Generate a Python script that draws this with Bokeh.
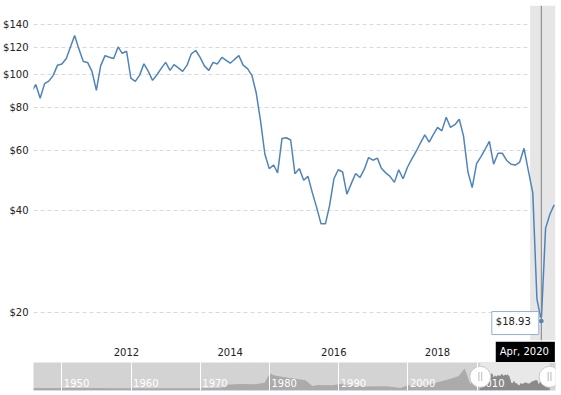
import pandas as pd
from bokeh.plotting import figure
from bokeh.models import (Range1d, FixedTicker, NumeralTickFormatter,
                          BoxAnnotation, Span, Label)
from bokeh.layouts import column
from bokeh.embed import file_html
from bokeh.resources import INLINE
from bokeh.core.properties import value

# ---------------- data ----------------
first_month = "2010-06-01"
prices = [
    89.0,                                                   # Jun 2010
    93.5, 85.3, 94.1, 95.7, 99.5, 106.6,                    # Jul-Dec 2010
    107.4, 111.5, 120.1, 130.3, 118.8, 109.3, 108.6, 102.2, 89.9, 106.1, 113.7, 112.4,  # 2011
    111.5, 120.6, 115.5, 117.1, 97.6, 95.5, 99.5, 107.6, 102.2, 96.2, 99.9, 104.3,      # 2012
    108.6, 102.9, 107.0, 104.7, 102.2, 106.6, 115.1, 117.7, 112.4, 106.1, 102.9, 108.6, # 2013
    107.5, 112.4, 110.3, 108.0, 110.8, 113.7, 106.6, 104.1, 99.5, 88.5, 73.0, 58.5,     # 2014
    53.0, 54.3, 51.5, 65.0, 65.3, 64.3, 51.2, 53.0, 49.0, 50.3, 45.0, 40.8,             # 2015
    36.5, 36.5, 41.3, 49.5, 52.6, 51.8, 44.6, 47.9, 51.3, 49.9, 52.8, 57.1,             # 2016
    56.1, 56.9, 53.1, 51.5, 50.3, 48.3, 52.6, 49.5, 53.5, 56.5, 59.5, 63.0,             # 2017
    66.6, 63.4, 66.6, 70.0, 68.4, 75.0, 70.0, 71.3, 74.0, 66.0, 51.8, 46.6,             # 2018
    54.8, 57.5, 60.3, 63.7, 54.6, 58.8, 58.8, 56.0, 54.6, 54.3, 55.4, 60.8,             # 2019
    52.2, 45.0, 22.0, 18.93, 35.4, 39.0, 41.5,                                         # 2020
]
y_ticks = [20, 40, 60, 80, 100, 120, 140]
x_tick_years = [2012, 2014, 2016, 2018]
view_start, view_end = "2010-06-15", "2020-07-10"
recession_start = "2020-01-13"
hover_month, hover_price, hover_text, hover_date_text = "2020-04-01", 18.93, "$18.93", "Apr, 2020"

# navigator (long history, 1946 onward)
nav_years = [1945.9, 1950, 1955, 1960, 1965, 1970, 1973, 1974, 1976, 1978, 1979.3, 1979.8,
             1980.2, 1980.6, 1982, 1983.5, 1985.2, 1986.2, 1987, 1989, 1990.7, 1991.3, 1994,
             1997, 1998.9, 2000, 2001.9, 2003.5, 2005.9, 2007.3, 2008.2, 2008.6, 2009.0,
             2009.8, 2010.4]
nav_prices = [17, 17, 17, 16, 16, 16, 20, 42, 45, 44, 55, 100,
              119, 108, 95, 85, 72, 31, 38, 37, 50, 36, 28,
              30, 17, 37, 30, 48, 79, 100, 155, 100, 48,
              79, 88]
nav_decades = [1950, 1960, 1970, 1980, 1990, 2000, 2010]
nav_view = (1945.9, 2021.33)
sel_start, sel_end = 2010.46, 2020.47

FONT = "DejaVu Sans"
LINE = "#4f84bb"

dates = pd.date_range(first_month, periods=len(prices), freq="MS")
x_range = Range1d(pd.Timestamp(view_start), pd.Timestamp(view_end))

# ---------------- main chart ----------------
p = figure(width=561, height=341, x_axis_type="datetime", y_axis_type="log",
           x_range=x_range, y_range=Range1d(16.6, 159.5),
           output_backend="svg", toolbar_location=None,
           min_border_left=33, min_border_right=6, min_border_top=5, min_border_bottom=1)
p.outline_line_color = None
p.xaxis.visible = False

p.add_layout(BoxAnnotation(left=pd.Timestamp(recession_start), fill_color="#e6e6e6",
                           fill_alpha=1, line_color=None, level="underlay"))

p.yaxis.ticker = FixedTicker(ticks=y_ticks)
p.yaxis.formatter = NumeralTickFormatter(format="$0")
p.yaxis.axis_line_color = None
p.yaxis.major_tick_line_color = None
p.yaxis.minor_tick_line_color = None
p.yaxis.major_tick_out = 0
p.yaxis.major_tick_in = 0
p.yaxis.minor_tick_out = 0
p.yaxis.minor_tick_in = 0
p.yaxis.major_label_text_font = FONT
p.yaxis.major_label_text_font_size = "10px"
p.yaxis.major_label_text_color = "#222222"
p.yaxis.major_label_standoff = 5

p.xgrid.visible = False
p.ygrid.ticker = FixedTicker(ticks=y_ticks)
p.ygrid.grid_line_color = "#d8d8d8"
p.ygrid.grid_line_dash = "4 3"
p.ygrid.grid_line_width = 1

p.add_layout(Span(location=pd.Timestamp(hover_month), dimension="height",
                  line_color="#808080", line_width=1))

p.line(dates, prices, line_color=LINE, line_width=1.5)
p.scatter([pd.Timestamp(hover_month)], [hover_price], marker="circle", size=6,
          fill_color=LINE, line_color="white", line_width=1)

p.add_layout(Label(x=pd.Timestamp(hover_month), y=hover_price, x_offset=-26, y_offset=-2,
                   text=hover_text, text_align="center", text_baseline="middle",
                   text_font=FONT, text_font_size="10px", text_color="#222222",
                   background_fill_color="white", border_line_color="#8fb0d3",
                   border_line_width=1, padding=(4, 8, 4, 8)))

# ---------------- date-label strip (year labels + hovered date) ----------------
strip = figure(width=561, height=21, x_axis_type="datetime", x_range=x_range,
               y_range=Range1d(0, 21), output_backend="svg", toolbar_location=None,
               min_border_left=33, min_border_right=6, min_border_top=0, min_border_bottom=0)
strip.outline_line_color = None
strip.xaxis.visible = False
strip.yaxis.visible = False
strip.grid.visible = False
strip.text(x=[pd.Timestamp(f"{y}-01-01") for y in x_tick_years], y=[10.5] * len(x_tick_years),
           text=[str(y) for y in x_tick_years], text_align="left", text_baseline="middle",
           text_font=value(FONT), text_font_size="10px", text_color="#222222")
strip.add_layout(Label(x=pd.Timestamp(hover_month), y=10.5, x_offset=-16,
                       text=hover_date_text, text_align="center", text_baseline="middle",
                       text_font=FONT, text_font_size="10px", text_color="white",
                       background_fill_color="black", padding=(4, 6, 4, 6)))

# ---------------- navigator ----------------
nav = figure(width=561, height=33, x_range=Range1d(*nav_view), y_range=Range1d(0, 197),
             output_backend="svg", toolbar_location=None,
             min_border_left=33, min_border_right=0, min_border_top=0, min_border_bottom=5,
             background_fill_color="#d3d3d3", border_fill_color="white")
nav.outline_line_color = None
nav.xaxis.visible = False
nav.yaxis.visible = False
nav.ygrid.visible = False

nav.add_layout(BoxAnnotation(left=sel_start, right=sel_end, fill_color="#e8e8e8",
                             fill_alpha=1, line_color=None, level="underlay"))

sel_years = [d.year + (d.month - 1) / 12 for d in dates]
nav.varea(x=nav_years, y1=0, y2=nav_prices, fill_color="#ababab")
nav.varea(x=sel_years, y1=0, y2=prices, fill_color="#8a8a8a")

nav.xgrid.ticker = FixedTicker(ticks=nav_decades)
nav.xgrid.grid_line_color = "white"
nav.xgrid.grid_line_width = 1
nav.xgrid.level = "overlay"

nav.text(x=nav_decades, y=[56] * len(nav_decades), text=[str(d) for d in nav_decades],
         x_offset=2, text_align="left", text_baseline="middle",
         text_font=value(FONT), text_font_size="10px", text_color="white")

nav.scatter([sel_start, sel_end], [96, 96], marker="circle", size=21,
            fill_color="white", line_color="#c8c8c8", line_width=1)
nav.text(x=[sel_start, sel_end], y=[96, 96], text=["||", "||"], text_align="center",
         text_baseline="middle", text_font=value(FONT), text_font_size="8px",
         text_color="#a0a0a0")

layout = column(p, strip, nav, spacing=0)

with open("out.html", "w") as f:
    f.write(file_html(layout, INLINE))
